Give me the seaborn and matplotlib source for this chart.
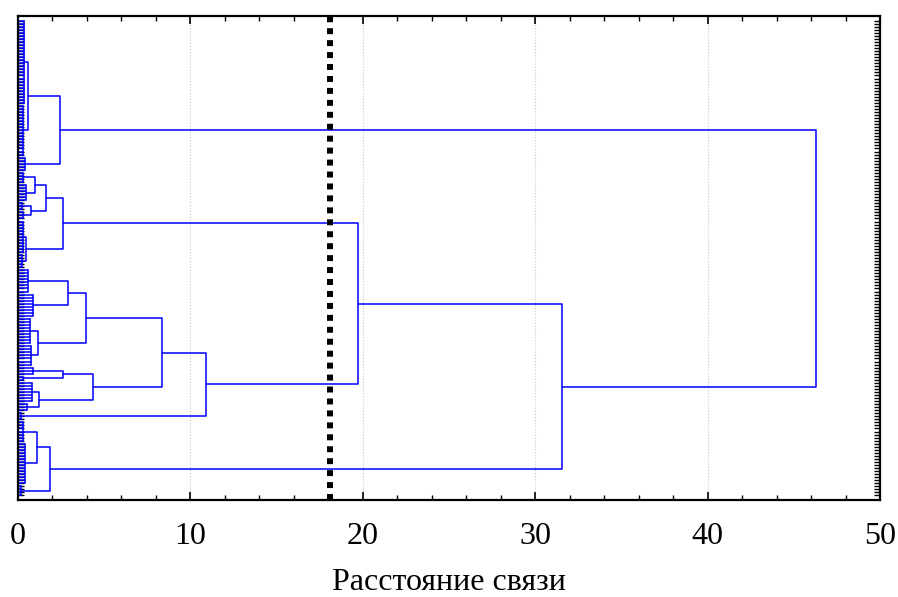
import numpy as np
import pandas as pd
import matplotlib
matplotlib.use("Agg")
import matplotlib.pyplot as plt
from matplotlib.ticker import MultipleLocator
import seaborn as sns

# leaf groups (top to bottom): number of leaves and joining distance
cluster_sizes = [28, 17, 5, 4, 6, 3, 3, 11, 5, 8, 8, 9, 7, 3, 2, 7, 3, 3, 7, 14, 4]
cluster_heights = [0.35, 0.3, 0.4, 0.3, 0.45, 0.25, 0.3, 0.3, 0.25, 0.6, 0.9,
                   0.7, 0.75, 0.85, 0.3, 0.8, 0.5, 0.15, 0.3, 0.4, 0.2]

# merges of groups / nodes (node ids continue after the groups)
merge_left = [0, 21, 3, 5, 23, 7, 25, 9, 11, 28, 13, 15, 31, 30, 34, 27, 18, 37, 36, 22]
merge_right = [1, 2, 4, 6, 24, 8, 26, 10, 12, 29, 14, 16, 32, 33, 17, 35, 19, 20, 38, 39]
merge_heights = [0.58, 2.45, 1.0, 0.75, 1.6, 0.45, 2.6, 2.9, 1.15, 3.95, 2.6, 1.2,
                 4.35, 8.35, 10.9, 19.7, 1.1, 1.85, 31.55, 46.3]

cut_distance = 18.1
x_ticks = [0, 10, 20, 30, 40, 50]
x_label = "Расстояние связи"

sns.set_style("ticks")
plt.rcParams['font.family'] = ['Liberation Serif', 'DejaVu Serif']
plt.rcParams.update({'text.color': 'black', 'axes.labelcolor': 'black',
                     'xtick.color': 'black', 'ytick.color': 'black',
                     'axes.edgecolor': 'black'})

# build dendrogram segments
rows = []
seg = 0
center = {}
height = {}
start = 0
for k, (n, h) in enumerate(zip(cluster_sizes, cluster_heights)):
    leaves = np.arange(start, start + n)
    for y in leaves:
        rows += [(seg, 0.0, y), (seg, h, y)]
        seg += 1
    rows += [(seg, h, leaves[0]), (seg, h, leaves[-1])]
    seg += 1
    center[k] = (leaves[0] + leaves[-1]) / 2
    height[k] = h
    start += n
n_leaves = start

node = len(cluster_sizes)
for a, b, h in zip(merge_left, merge_right, merge_heights):
    ya, yb = center[a], center[b]
    rows += [(seg, height[a], ya), (seg, h, ya), (seg, h, yb), (seg, height[b], yb)]
    seg += 1
    center[node] = (ya + yb) / 2
    height[node] = h
    node += 1

segs = pd.DataFrame(rows, columns=["seg", "dist", "leaf"])

fig = plt.figure(figsize=(8.98, 5.97), dpi=100)
ax = fig.add_axes([0.02, 0.1625, 0.96, 0.8105])

ax.grid(axis='x', which='major', linestyle=':', color='#c8c8c8', linewidth=0.8)
sns.lineplot(data=segs, x="dist", y="leaf", units="seg", estimator=None, sort=False,
             color="#0000ff", linewidth=1.1, legend=False, ax=ax)
ax.axvline(cut_distance, color='black', linestyle=(0, (1, 1)), linewidth=4.3)

ax.set_xlim(0, 50)
ax.set_ylim(n_leaves + 0.5, -1.5)
ax.set_xticks(x_ticks)
ax.xaxis.set_minor_locator(MultipleLocator(2))
ax.set_yticks(range(n_leaves))
ax.set_yticklabels([])
ax.tick_params(axis='x', which='major', direction='in', length=6, width=1.2,
               top=True, bottom=True, labelsize=23, pad=16)
ax.tick_params(axis='x', which='minor', direction='in', length=3.5, width=1.0,
               top=True, bottom=True)
ax.tick_params(axis='y', direction='in', length=4.5, width=1.0, left=True, right=True)
for s in ax.spines.values():
    s.set_linewidth(1.6)
    s.set_visible(True)
ax.set_xlabel(x_label, fontsize=23, labelpad=12)
ax.set_ylabel("")

fig.savefig("out.png", dpi=100)
